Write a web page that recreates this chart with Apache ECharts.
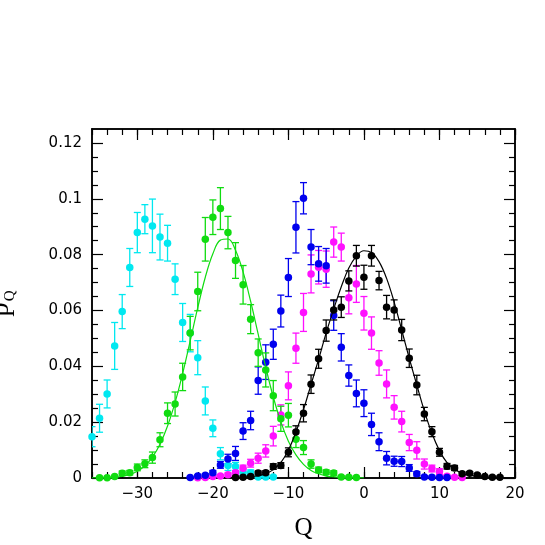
<!DOCTYPE html>
<html>
<head>
<meta charset="utf-8">
<script src="https://cdn.jsdelivr.net/npm/echarts@6/dist/echarts.min.js"></script>
<style>
  html, body { margin: 0; padding: 0; background: #fff; }
  #chart { width: 545px; height: 545px; }
</style>
</head>
<body>
<div id="chart"></div>
<script>
// Q values (first Q of each series, points are at every integer after it)
const cyanQ0 = -36;
const cyanP = [0.0148, 0.0214, 0.0301, 0.0473, 0.0596, 0.0754, 0.0879, 0.0927, 0.0903, 0.0863, 0.0841, 0.0712, 0.0557,
  0.0519, 0.0431, 0.0276, 0.0178, 0.0087, 0.0045, 0.0041, 0.0019, 0.0019, 0.0004, 0.0004, 0.0004];
const cyanErr = [0.0036, 0.005, 0.005, 0.0084, 0.0061, 0.0068, 0.0072, 0.0052, 0.0096, 0.0082, 0.0064, 0.0055, 0.0068,
  0.0067, 0.0061, 0.005, 0.003, 0.0022, 0.0018, 0.0015, 0.001, 0.001, 0.0004, 0.0004, 0.0004];

const greenQ0 = -35;
const greenP = [0.0001, 0.0001, 0.0005, 0.0017, 0.0019, 0.0038, 0.0051, 0.0073, 0.0137, 0.0232, 0.0265, 0.0362, 0.0519,
  0.0668, 0.0855, 0.0934, 0.0965, 0.0879, 0.0779, 0.0692, 0.0569, 0.0449, 0.0387, 0.0295, 0.0212, 0.0225, 0.0139,
  0.0109, 0.005, 0.0029, 0.0021, 0.0018, 0.0004, 0.0003, 0.0002];
const greenErr = [0.0002, 0.0002, 0.0004, 0.0008, 0.0008, 0.0012, 0.0014, 0.002, 0.0025, 0.0037, 0.0043, 0.0049, 0.006,
  0.0069, 0.0078, 0.0062, 0.0075, 0.0058, 0.0064, 0.0069, 0.0052, 0.0049, 0.0061, 0.0054, 0.0045, 0.0042, 0.003,
  0.0025, 0.0015, 0.001, 0.0008, 0.0008, 0.0003, 0.0003, 0.0002];

const blueQ0 = -23;
const blueP = [0.0002, 0.0007, 0.001, 0.0019, 0.0047, 0.0068, 0.0088, 0.0168, 0.0206, 0.0349, 0.0415, 0.0479, 0.0598,
  0.0718, 0.0898, 0.1002, 0.0827, 0.0767, 0.076, 0.0582, 0.0468, 0.0367, 0.0303, 0.0268, 0.0192, 0.013, 0.0071,
  0.006, 0.0059, 0.0036, 0.0015, 0.0004, 0.0003, 0.0002, 0.0002];
const blueErr = [0.0002, 0.0004, 0.0005, 0.0008, 0.0012, 0.0017, 0.0025, 0.003, 0.0033, 0.0049, 0.0062, 0.0054, 0.0057,
  0.0068, 0.0092, 0.0056, 0.0063, 0.0062, 0.0062, 0.0053, 0.0049, 0.0038, 0.0048, 0.0048, 0.004, 0.0032, 0.0024,
  0.0018, 0.0018, 0.0012, 0.0008, 0.0004, 0.0003, 0.0002, 0.0002];

const magentaQ0 = -22;
const magentaP = [0.0001, 0.0002, 0.0005, 0.0007, 0.0012, 0.0019, 0.0035, 0.0053, 0.0071, 0.0097, 0.015, 0.0226, 0.033,
  0.0465, 0.0593, 0.0731, 0.0755, 0.0748, 0.0845, 0.0827, 0.0646, 0.0695, 0.059, 0.0519, 0.0412, 0.0337, 0.0253,
  0.0202, 0.0127, 0.0099, 0.005, 0.0034, 0.0023, 0.0006, 0.0003, 0.0002];
const magentaErr = [0.0002, 0.0002, 0.0003, 0.0004, 0.0006, 0.0008, 0.0011, 0.0014, 0.0018, 0.0022, 0.0035, 0.0036, 0.005,
  0.0054, 0.0068, 0.0068, 0.006, 0.0065, 0.0054, 0.005, 0.0058, 0.0066, 0.006, 0.0058, 0.0044, 0.005, 0.0042,
  0.0037, 0.0029, 0.0031, 0.0018, 0.0012, 0.001, 0.0004, 0.0003, 0.0002];

const blackQ0 = -17;
const blackP = [0.0002, 0.0003, 0.0005, 0.0018, 0.0019, 0.0041, 0.0045, 0.0092, 0.0165, 0.0232, 0.0336, 0.0427, 0.0528,
  0.0602, 0.0612, 0.0706, 0.0796, 0.0719, 0.0796, 0.0707, 0.0612, 0.0602, 0.053, 0.0429, 0.0333, 0.0229, 0.0166,
  0.0092, 0.0042, 0.0036, 0.0015, 0.0017, 0.0011, 0.0005, 0.0003, 0.0003];
const blackErr = [0.0002, 0.0003, 0.0003, 0.0007, 0.0007, 0.001, 0.001, 0.0016, 0.0022, 0.0031, 0.0033, 0.0034, 0.0038,
  0.0036, 0.0037, 0.0036, 0.0037, 0.0043, 0.0037, 0.0033, 0.0042, 0.0036, 0.0038, 0.0033, 0.0035, 0.0024, 0.0018,
  0.0014, 0.001, 0.0009, 0.0006, 0.0006, 0.0005, 0.0003, 0.0003, 0.0003];

// fit curves, values at every integer Q
const greenFitQ0 = -36;
const greenFit = [0.00002, 0.00005, 0.00013, 0.0003, 0.00063, 0.0013, 0.0024, 0.0044, 0.0075, 0.0121, 0.0186, 0.0271,
  0.0374, 0.0491, 0.061, 0.0719, 0.0803, 0.0852, 0.0856, 0.0816, 0.0738, 0.0633, 0.0515, 0.0397, 0.029, 0.0201,
  0.0132, 0.0083, 0.0049, 0.0027, 0.0015, 0.0007, 0.0004, 0.0002, 0.0001, 0.00004, 0.00002];
const blackFitQ0 = -16;
const blackFit = [0.0002, 0.0004, 0.0008, 0.0015, 0.003, 0.0055, 0.01, 0.0165, 0.0245, 0.0335, 0.0425, 0.052, 0.0605,
  0.0685, 0.0752, 0.0795, 0.0814, 0.0808, 0.0775, 0.0715, 0.063, 0.053, 0.0429, 0.0333, 0.024, 0.016, 0.0098,
  0.0055, 0.0031, 0.0017, 0.001, 0.0006, 0.0003, 0.0002, 0.0001, 0.00005, 0.00003];

// tick values
const xMajor = [-30, -20, -10, 0, 10, 20];
const xMinor = [-36, -34, -32, -30, -28, -26, -24, -22, -20, -18, -16, -14, -12, -10, -8, -6, -4, -2, 0, 2, 4, 6, 8, 10,
  12, 14, 16, 18, 20];
const yMajor = [0, 0.02, 0.04, 0.06, 0.08, 0.1, 0.12];
const yMinor = [0.005, 0.01, 0.015, 0.025, 0.03, 0.035, 0.045, 0.05, 0.055, 0.065, 0.07, 0.075, 0.085, 0.09, 0.095,
  0.105, 0.11, 0.115];

const COLORS = {
  cyan: '#00e8f0',
  green: '#10dc10',
  blue: '#0000ee',
  magenta: '#ff10ff',
  black: '#000000'
};

const pairs = (q0, vals) => vals.map((v, i) => [q0 + i, v]);

// barres d'erreur : custom series
function errorBars(color, q0, vals, errs) {
  return {
    type: 'custom',
    silent: true,
    clip: true,
    data: vals.map((v, i) => [q0 + i, v - errs[i], v + errs[i]]),
    encode: { x: 0, y: [1, 2] },
    renderItem: (params, api) => {
      const hi = api.coord([api.value(0), api.value(2)]);
      const lo = api.coord([api.value(0), api.value(1)]);
      const w = 3.5;
      const style = { stroke: color, lineWidth: 1.3 };
      return {
        type: 'group',
        children: [
          { type: 'line', shape: { x1: hi[0], y1: hi[1], x2: lo[0], y2: lo[1] }, style },
          { type: 'line', shape: { x1: hi[0] - w, y1: hi[1], x2: hi[0] + w, y2: hi[1] }, style },
          { type: 'line', shape: { x1: lo[0] - w, y1: lo[1], x2: lo[0] + w, y2: lo[1] }, style }
        ]
      };
    }
  };
}

function points(color, q0, vals) {
  return {
    type: 'scatter',
    silent: true,
    symbol: 'circle',
    symbolSize: 7.5,
    itemStyle: { color: color, opacity: 1 },
    data: pairs(q0, vals)
  };
}

function fitLine(color, q0, vals) {
  return {
    type: 'line',
    silent: true,
    smooth: 0.4,
    showSymbol: false,
    lineStyle: { color: color, width: 1.2 },
    data: pairs(q0, vals)
  };
}

const minus = v => String(v).replace('-', '\u2212');
const frame = { show: true, onZero: false, lineStyle: { color: '#000', width: 1.5 } };
const tickFont = { fontFamily: 'DejaVu Sans', fontSize: 15, color: '#000' };

function xAx(position, values, len, withLabel) {
  return {
    type: 'value', position: position, min: -36, max: 20,
    axisLine: frame,
    splitLine: { show: false },
    axisTick: { show: true, inside: true, length: len, customValues: values, lineStyle: { color: '#000', width: 1.2 } },
    axisLabel: withLabel
      ? Object.assign({ show: true, margin: 9, customValues: xMajor, formatter: minus }, tickFont)
      : { show: false }
  };
}

function yAx(position, values, len, withLabel) {
  return {
    type: 'value', position: position, min: 0, max: 0.125,
    axisLine: frame,
    splitLine: { show: false },
    axisTick: { show: true, inside: true, length: len, customValues: values, lineStyle: { color: '#000', width: 1.2 } },
    axisLabel: withLabel
      ? Object.assign({ show: true, margin: 10, customValues: yMajor, formatter: v => String(+(+v).toFixed(3)) }, tickFont)
      : { show: false }
  };
}

const chart = echarts.init(document.getElementById('chart'), null, { renderer: 'canvas' });

const xMain = xAx('bottom', xMajor, 11, true);
xMain.name = 'Q';
xMain.nameLocation = 'middle';
xMain.nameGap = 38;
xMain.nameTextStyle = { fontFamily: 'Liberation Serif', fontSize: 25, color: '#000' };

const yMain = yAx('left', yMajor, 11, true);
yMain.name = '{p|p}{q|Q}';
yMain.nameLocation = 'middle';
yMain.nameRotate = 90;
yMain.nameGap = 74;
yMain.nameTextStyle = {
  rich: {
    p: { fontFamily: 'Liberation Serif', fontSize: 29, color: '#000', lineHeight: 30 },
    q: { fontFamily: 'Liberation Serif', fontSize: 15, color: '#000', padding: [21, 0, 0, 1] }
  }
};

chart.setOption({
  animation: false,
  backgroundColor: '#fff',
  grid: { left: 92, top: 129, right: 30, bottom: 67, containLabel: false, outerBoundsMode: 'none' },
  xAxis: [
    xMain,
    xAx('bottom', xMinor, 6, false),
    xAx('top', xMajor, 11, false),
    xAx('top', xMinor, 6, false)
  ],
  yAxis: [
    yMain,
    yAx('left', yMinor, 6, false),
    yAx('right', yMajor, 11, false),
    yAx('right', yMinor, 6, false)
  ],
  series: [
    errorBars(COLORS.cyan, cyanQ0, cyanP, cyanErr),
    points(COLORS.cyan, cyanQ0, cyanP),
    errorBars(COLORS.magenta, magentaQ0, magentaP, magentaErr),
    points(COLORS.magenta, magentaQ0, magentaP),
    errorBars(COLORS.blue, blueQ0, blueP, blueErr),
    points(COLORS.blue, blueQ0, blueP),
    errorBars(COLORS.green, greenQ0, greenP, greenErr),
    points(COLORS.green, greenQ0, greenP),
    fitLine(COLORS.green, greenFitQ0, greenFit),
    errorBars(COLORS.black, blackQ0, blackP, blackErr),
    points(COLORS.black, blackQ0, blackP),
    fitLine(COLORS.black, blackFitQ0, blackFit)
  ]
});
</script>
</body>
</html>
